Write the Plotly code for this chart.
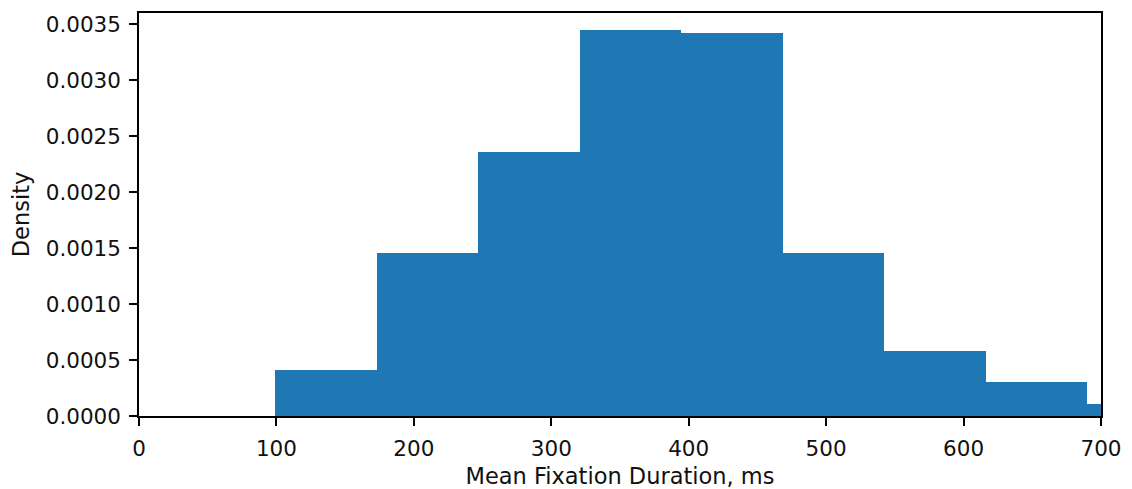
import plotly.graph_objects as go

# Histogram bin edges (ms) and density heights
bin_edges = [99.3, 173.1, 247.0, 320.8, 394.6, 468.4, 542.3, 616.1, 690.0, 763.8]
densities = [0.000415, 0.00146, 0.002357, 0.003448, 0.003418, 0.00146, 0.00058, 0.000300, 0.000103]

x_ticks = [0, 100, 200, 300, 400, 500, 600, 700]
y_ticks = [0.0, 0.0005, 0.0010, 0.0015, 0.0020, 0.0025, 0.0030, 0.0035]

centers = [(a + b) / 2 for a, b in zip(bin_edges[:-1], bin_edges[1:])]
widths = [b - a for a, b in zip(bin_edges[:-1], bin_edges[1:])]

FONT = "DejaVu Sans"
TXT = "#111111"
fig = go.Figure(
    go.Bar(
        x=centers,
        y=densities,
        width=widths,
        marker=dict(color="#1f77b4", line=dict(width=0)),
        hoverinfo="skip",
    )
)

axis_common = dict(
    showline=True,
    linecolor="black",
    linewidth=1.5,
    mirror=True,
    ticks="outside",
    ticklen=8,
    tickwidth=1.5,
    tickcolor="black",
    showgrid=False,
    zeroline=False,
    tickfont=dict(family=FONT, size=21.5, color=TXT),
)

# The page body has an 8px margin, so the figure is sized/margined to compensate.
fig.update_layout(
    width=1124,
    height=481,
    margin=dict(l=131, r=31, t=3, b=71),
    paper_bgcolor="white",
    plot_bgcolor="white",
    showlegend=False,
    bargap=0,
    font=dict(family=FONT, size=21.5, color=TXT),
    xaxis=dict(
        range=[0, 700],
        tickvals=x_ticks,
        ticktext=[str(v) for v in x_ticks],
        ticklabelstandoff=4,
        title=dict(text="Mean Fixation Duration, ms", font=dict(family=FONT, size=22.5, color=TXT), standoff=10),
        **axis_common,
    ),
    yaxis=dict(
        range=[0, 0.0036],
        tickvals=y_ticks,
        ticktext=[f"{v:.4f}" for v in y_ticks],
        ticklabelstandoff=4,
        title=dict(text="Density", font=dict(family=FONT, size=22.5, color=TXT), standoff=10),
        **axis_common,
    ),
)

fig.write_html("out.html")
